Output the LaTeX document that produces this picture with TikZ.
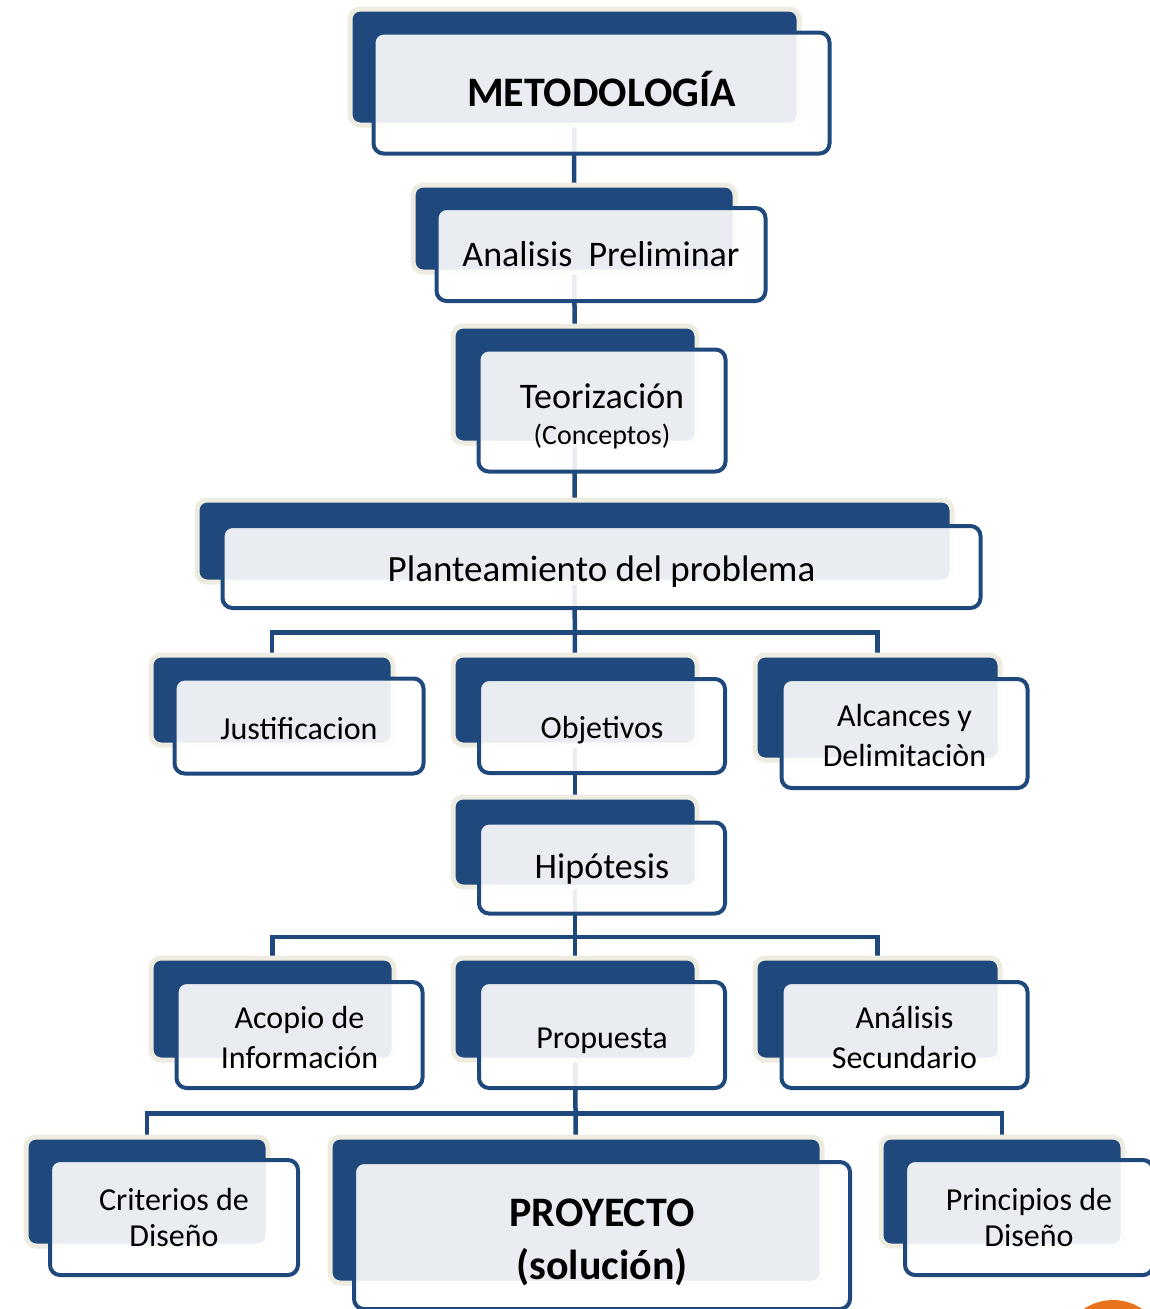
\documentclass[tikz,border=0pt]{standalone}
\usepackage{fontspec}
\setmainfont{Carlito}
\usetikzlibrary{calc, backgrounds}

\definecolor{boxblue}{HTML}{1F497D}
\definecolor{boxcream}{HTML}{EEECE1}
\definecolor{boxorange}{HTML}{E8731C}

\begin{document}
\begin{tikzpicture}[x=1pt, y=-1pt]
    % --- Style Definitions ---
    \tikzset{
        back style/.style={
            fill=boxblue,
            draw=boxcream,
            line width=5pt,
            rounded corners=10pt,
            inner sep=0pt,
            outer sep=0pt
        },
        front style/.style={
            fill=white,
            fill opacity=0.9,
            draw=boxblue,
            line width=4pt,
            rounded corners=10pt,
            inner sep=0pt
        },
        label text/.style={font=\fontsize{32}{40}\selectfont, align=center},
        main text/.style={font=\fontsize{36}{40}\selectfont, align=center},
        title text/.style={font=\fontsize{42}{53}\selectfont\bfseries, align=center},
        link style/.style={draw=boxblue, line width=4.5pt}
    }

    \useasboundingbox (0,0) rectangle (1149,1309);

    % ==========================================
    % UPPER CHAIN
    % ==========================================

    % 1. Metodologia
    \node[back style, minimum width=449pt, minimum height=116pt] (metodo_back) at (574.5,67) {};
    \node[front style, minimum width=456pt, minimum height=121pt] (metodo) at ($(metodo_back)+(27,26)$) {};
    \node[title text] (metodo_text) at ($(metodo.center)+(0,-4)$) {METODOLOGÍA};

    % 2. Analisis preliminar
    \node[back style, minimum width=322pt, minimum height=87pt] (analisis_back) at (574,228.5) {};
    \node[front style, minimum width=329pt, minimum height=93pt] (analisis) at ($(analisis_back)+(27,26)$) {};
    \node[main text] (analisis_text) at (analisis.center) {Analisis~ Preliminar};

    % 3. Teorizacion
    \node[back style, minimum width=244pt, minimum height=117pt] (teoria_back) at (575,384.5) {};
    \node[front style, minimum width=247pt, minimum height=122pt] (teoria) at ($(teoria_back)+(27,26)$) {};
    \node[main text] (teoria_text) at ($(teoria.center)+(0,6)$)
        {Teorización\\[-4pt]{\fontsize{28}{32}\selectfont (Conceptos)}};

    % 4. Planteamiento
    \node[back style, minimum width=755pt, minimum height=82pt] (plant_back) at (574.5,541) {};
    \node[front style, minimum width=758pt, minimum height=82pt] (plant) at ($(plant_back)+(27,26)$) {};
    \node[main text, font=\fontsize{37}{40}\selectfont] (plant_text) at ($(plant.center)+(0,5)$) {Planteamiento del problema};

    % ==========================================
    % SECOND ROW AND HYPOTHESIS
    % ==========================================
    \node[back style, minimum width=242pt, minimum height=90pt] (just_back) at (272,700) {};
    \node[front style, minimum width=249pt, minimum height=95pt] (just) at ($(just_back)+(27,26)$) {};
    \node[label text] (just_text) at ($(just.center)+(0,3)$) {Justificacion};

    \node[back style, minimum width=244pt, minimum height=90pt] (obj_back) at (575,700) {};
    \node[front style, minimum width=246pt, minimum height=94pt] (obj) at ($(obj_back)+(27,26)$) {};
    \node[label text] (obj_text) at ($(obj.center)+(0,4)$) {Objetivos};

    \node[back style, minimum width=245pt, minimum height=105pt] (alc_back) at (877.5,707.5) {};
    \node[front style, minimum width=246pt, minimum height=109pt] (alc) at ($(alc_back)+(27,26)$) {};
    \node[label text] (alc_text) at ($(alc.center)+(0,2)$) {Alcances y\\Delimitaciòn};

    \node[back style, minimum width=244pt, minimum height=90pt] (hip_back) at (575,842) {};
    \node[front style, minimum width=246pt, minimum height=91pt] (hip) at ($(hip_back)+(27,26)$) {};
    \node[main text] (hip_text) at ($(hip.center)+(0,1)$) {Hipótesis};

    % ==========================================
    % THIRD ROW
    % ==========================================
    \node[back style, minimum width=243pt, minimum height=102pt] (acopio_back) at (272.5,1009) {};
    \node[front style, minimum width=246pt, minimum height=106pt] (acopio) at ($(acopio_back)+(27,26)$) {};
    \node[label text] (acopio_text) at ($(acopio.center)+(0,2)$) {Acopio de\\Información};

    \node[back style, minimum width=244pt, minimum height=102pt] (prop_back) at (575,1009) {};
    \node[front style, minimum width=246pt, minimum height=106pt] (prop) at ($(prop_back)+(27,26)$) {};
    \node[label text] (prop_text) at ($(prop.center)+(0,6)$) {Propuesta};

    \node[back style, minimum width=245pt, minimum height=102pt] (anal_back) at (877.5,1009) {};
    \node[front style, minimum width=246pt, minimum height=106pt] (anal) at ($(anal_back)+(27,26)$) {};
    \node[label text] (anal_text) at ($(anal.center)+(0,2)$) {Análisis\\Secundario};

    % ==========================================
    % BOTTOM ROW
    % ==========================================
    \node[back style, minimum width=242pt, minimum height=109pt] (crit_back) at (147,1191.5) {};
    \node[front style, minimum width=248pt, minimum height=115pt] (crit) at ($(crit_back)+(27,26)$) {};
    \node[label text, font=\fontsize{32}{36}\selectfont] (crit_text) at (crit.center) {Criterios de\\Diseño};

    \node[back style, minimum width=492pt, minimum height=146pt] (proy_back) at (576,1210) {};
    \node[front style, minimum width=496pt, minimum height=147pt] (proy) at ($(proy_back)+(26,25.5)$) {};
    \node[title text] (proy_text) at ($(proy.center)+(0,7)$) {PROYECTO\\(solución)};

    \node[back style, minimum width=242pt, minimum height=109pt] (princ_back) at (1002,1191.5) {};
    \node[front style, minimum width=248pt, minimum height=115pt] (princ) at ($(princ_back)+(27,26)$) {};
    \node[label text, font=\fontsize{32}{36}\selectfont] (princ_text) at (princ.center) {Principios de\\Diseño};

    % cut-off orange disc in the corner
    \fill[boxorange] (1113,1352) circle[radius=52];

    % ==========================================
    % CONNECTORS (behind the boxes)
    % ==========================================
    \coordinate (bar_one) at ($(plant.south)!0.5!(obj_back.north)$);
    \coordinate (bar_two) at ($(hip.south)!0.5!(prop_back.north)$);
    \coordinate (bar_three) at ($(prop.south)!0.5!(proy_back.north)$);

    \begin{pgfonlayer}{background}
        \draw[link style] (metodo_back) -- (analisis_back);
        \draw[link style] (analisis_back) -- (teoria_back);
        \draw[link style] (teoria_back) -- (plant_back);
        \draw[link style] (plant_back) -- (obj_back);
        \draw[link style] (just_back) |- (bar_one) -| (alc_back);
        \draw[link style] (obj_back) -- (hip_back);
        \draw[link style] (hip_back) -- (prop_back);
        \draw[link style] (acopio_back) |- (bar_two) -| (anal_back);
        \draw[link style] (prop_back) -- (proy_back);
        \draw[link style] (crit_back) |- (bar_three) -| (princ_back);
    \end{pgfonlayer}

\end{tikzpicture}
\end{document}
